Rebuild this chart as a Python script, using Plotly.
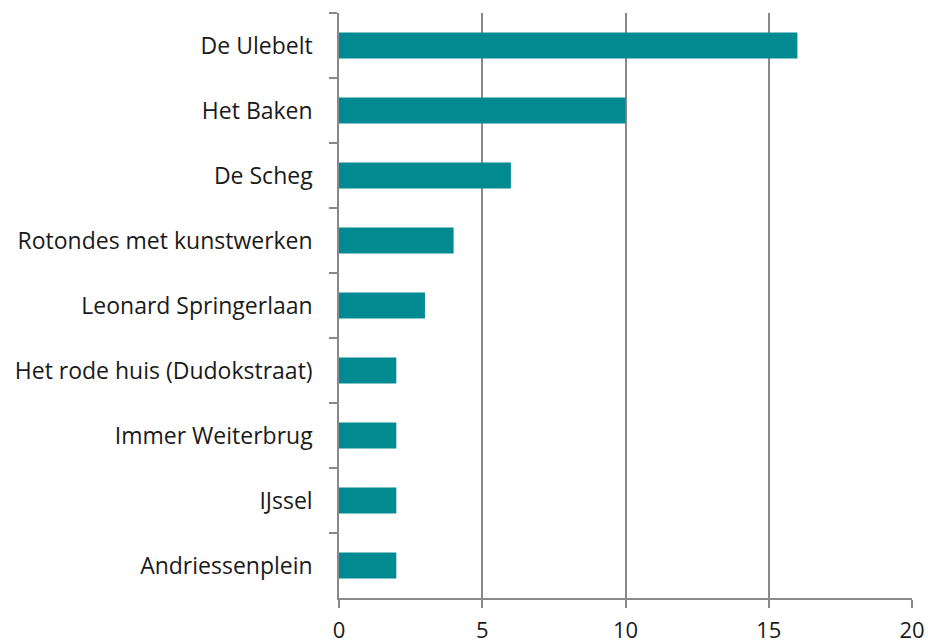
import plotly.graph_objects as go

categories = ["De Ulebelt", "Het Baken", "De Scheg", "Rotondes met kunstwerken",
              "Leonard Springerlaan", "Het rode huis (Dudokstraat)", "Immer Weiterbrug",
              "IJssel", "Andriessenplein"]
values = [16, 10, 6, 4, 3, 2, 2, 2, 2]
x_ticks = [0, 5, 10, 15, 20]

grey = "#898989"
fig = go.Figure(go.Bar(
    x=values, y=categories, orientation="h",
    marker=dict(color="#028A93", line=dict(width=0)),
    width=0.4,
))

fig.update_layout(
    width=928, height=644,
    margin=dict(l=339, r=16, t=13, b=46),
    paper_bgcolor="white", plot_bgcolor="white",
    font=dict(family="Open Sans, sans-serif", color="#1a1a1a"),
    showlegend=False,
)
fig.update_xaxes(
    range=[0, 20], tickvals=x_ticks, ticktext=[str(v) for v in x_ticks],
    showgrid=True, gridcolor=grey, gridwidth=1.5,
    showline=True, linecolor=grey, linewidth=1.5,
    ticks="outside", ticklen=8, tickcolor=grey, tickwidth=1.5,
    tickfont=dict(size=22), zeroline=False, automargin=False,
    ticklabelstandoff=4,
)
fig.update_yaxes(
    categoryorder="array", categoryarray=categories, autorange="reversed",
    showline=True, linecolor=grey, linewidth=1.5,
    ticks="outside", ticklen=8, tickcolor=grey, tickwidth=1.5,
    tickson="boundaries", showgrid=False, automargin=False,
    tickfont=dict(size=23), ticklabelstandoff=20,
)

fig.write_html("out.html", config={"displayModeBar": False},
               post_script="document.body.style.margin='0';document.body.style.overflow='hidden';")
